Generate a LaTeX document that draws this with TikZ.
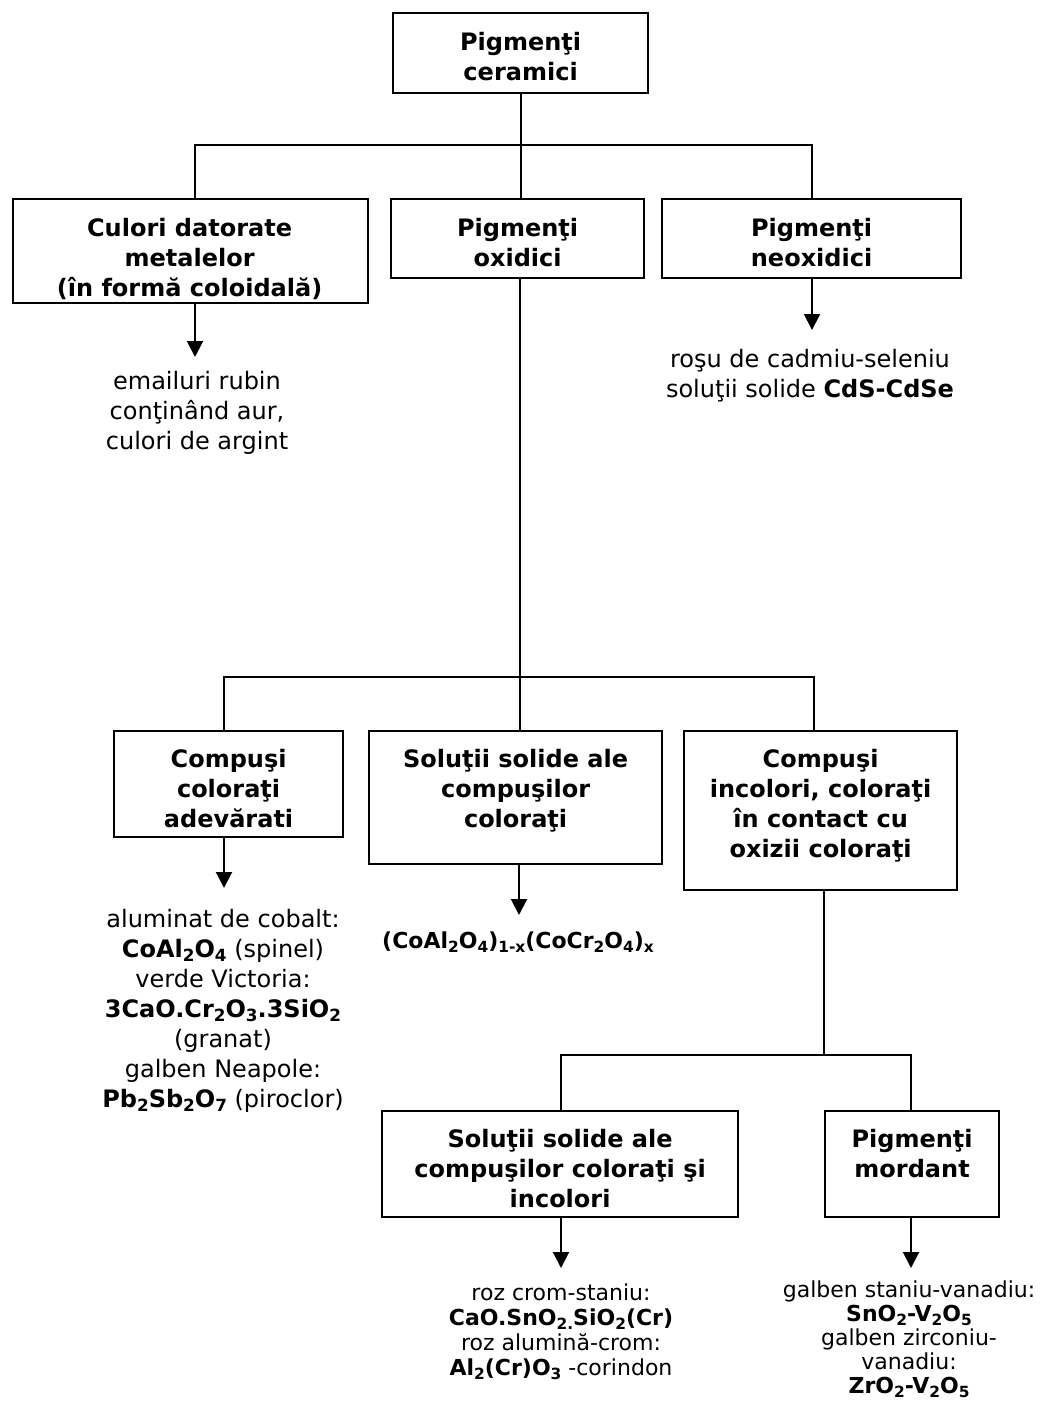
\documentclass[tikz,border=0pt]{standalone}
\usepackage{fontspec}
\setmainfont{DejaVu Sans}
\usetikzlibrary{arrows.meta,calc}
\newcommand{\sbs}[1]{\raisebox{-0.3ex}{\scalebox{0.7}{#1}}}
\begin{document}
\begin{tikzpicture}[x=1pt,y=-1pt,
 box/.style={draw,line width=2.2pt,inner sep=0pt,anchor=north west},
 btxt/.style={font=\fontsize{24}{30}\selectfont\bfseries,align=center,inner sep=0pt,anchor=north},
 ftxt/.style={font=\fontsize{24}{30}\selectfont,align=center,inner sep=0pt,anchor=north},
 stxt/.style={font=\fontsize{22}{25}\selectfont,align=center,inner sep=0pt,anchor=north},
 conn/.style={line width=2pt},
 arr/.style={line width=2pt,-{Triangle[length=16pt,width=16pt]}}]
\fill[white] (0,0) rectangle (1039,1404);
\useasboundingbox (0,0) rectangle (1039,1404);

% boxes
\node[box,minimum width=255pt,minimum height=80pt] (A) at (392,12) {};
\node[box,minimum width=355pt,minimum height=104pt] (B) at (12,198) {};
\node[box,minimum width=253pt,minimum height=79pt] (C) at (390,198) {};
\node[box,minimum width=299pt,minimum height=79pt] (D) at (661,198) {};
\node[box,minimum width=229pt,minimum height=106pt] (E) at (113,730) {};
\node[box,minimum width=293pt,minimum height=133pt] (F) at (368,730) {};
\node[box,minimum width=273pt,minimum height=159pt] (G) at (683,730) {};
\node[box,minimum width=356pt,minimum height=106pt] (H) at (381,1110) {};
\node[box,minimum width=174pt,minimum height=106pt] (I) at (824,1110) {};

% box texts
\node[btxt] (At) at ([yshift=-20pt]A.north) {Pigmenţi\\ceramici};
\node[btxt] (Bt) at ([xshift=-1pt,yshift=-20pt]B.north) {Culori datorate\\metalelor\\(în formă coloidală)};
\node[btxt] (Ct) at ([yshift=-20pt]C.north) {Pigmenţi\\oxidici};
\node[btxt] (Dt) at ([yshift=-20pt]D.north) {Pigmenţi\\neoxidici};
\node[btxt] (Et) at ([yshift=-19pt]E.north) {Compuşi\\coloraţi\\adevărati};
\node[btxt] (Ft) at ([yshift=-19pt]F.north) {Soluţii solide ale\\compuşilor\\coloraţi};
\node[btxt] (Gt) at ([yshift=-19pt]G.north) {Compuşi\\incolori, coloraţi\\în contact cu\\oxizii coloraţi};
\node[btxt] (Ht) at ([yshift=-19pt]H.north) {Soluţii solide ale\\compuşilor coloraţi şi\\incolori};
\node[btxt] (It) at ([yshift=-19pt]I.north) {Pigmenţi\\mordant};

% junctions
\coordinate (j1) at (519.5,145);
\coordinate (j1l) at (195,145);
\coordinate (j1r) at (812,145);
\coordinate (j2) at (519.5,677);
\coordinate (j2l) at (224,677);
\coordinate (j2r) at (814,677);
\coordinate (j3) at (824,1055);
\coordinate (j3l) at (561,1055);
\coordinate (j3r) at (911,1055);

% tips
\coordinate (tB) at (195,357);
\coordinate (tD) at (812,330);
\coordinate (tE) at (224,888);
\coordinate (tF) at (519,915);
\coordinate (tH) at (561,1268);
\coordinate (tI) at (911,1268);

% connectors
\draw[conn] (A.south) -- (A.south |- C.north);
\draw[conn] (B.north -| j1l) -- (j1l) -- (j1r) -- (D.north -| j1r);
\draw[conn] (C.south -| j2) -- (F.north -| j2);
\draw[conn] (E.north -| j2l) -- (j2l) -- (j2r) -- (G.north -| j2r);
\draw[conn] (G.south -| j3) -- (j3);
\draw[conn] (H.north -| j3l) -- (j3l) -- (j3r) -- (I.north -| j3r);

\draw[arr] (B.south -| tB) -- (tB);
\draw[arr] (D.south -| tD) -- (tD);
\draw[arr] (E.south -| tE) -- (tE);
\draw[arr] (F.south -| tF) -- (tF);
\draw[arr] (H.south -| tH) -- (tH);
\draw[arr] (I.south -| tI) -- (tI);

% free texts
\node[ftxt] (Bx) at (197,371) {emailuri rubin\\conţinând aur,\\culori de argint};
\node[ftxt] (Dx) at (810,349) {roşu de cadmiu-seleniu\\soluţii solide \textbf{CdS-CdSe}};
\node[ftxt] (Ex) at (223,909) {aluminat de cobalt:\\\textbf{CoAl\sbs{2}O\sbs{4}} (spinel)\\verde Victoria:\\\textbf{3CaO.Cr\sbs{2}O\sbs{3}.3SiO\sbs{2}}\\(granat)\\galben Neapole:\\\textbf{Pb\sbs{2}Sb\sbs{2}O\sbs{7}} (piroclor)};
\node[stxt,font=\fontsize{22}{25}\selectfont\bfseries] (Fx) at (518,932) {(CoAl\sbs{2}O\sbs{4})\sbs{1-x}(CoCr\sbs{2}O\sbs{4})\sbs{x}};
\node[stxt] (Hx) at (561,1284) {roz crom-staniu:\\\textbf{CaO.SnO\sbs{2.}SiO\sbs{2}(Cr)}\\roz alumină-crom:\\\textbf{Al\sbs{2}(Cr)O\sbs{3}} -corindon};
\node[stxt,font=\fontsize{22}{24}\selectfont] (Ix) at (909,1281) {galben staniu-vanadiu:\\\textbf{SnO\sbs{2}-V\sbs{2}O\sbs{5}}\\galben zirconiu-\\vanadiu:\\\textbf{ZrO\sbs{2}-V\sbs{2}O\sbs{5}}};
\end{tikzpicture}
\end{document}
